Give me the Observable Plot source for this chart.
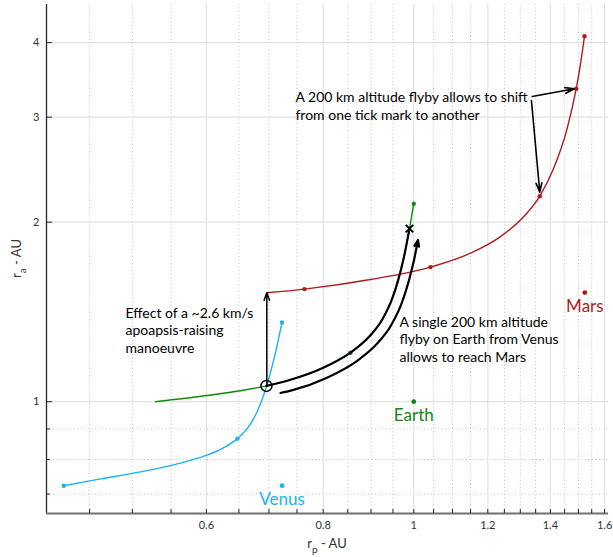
<!DOCTYPE html>
<html>
<head>
<meta charset="utf-8">
<script src="https://cdn.jsdelivr.net/npm/d3@7"></script>
<script src="https://cdn.jsdelivr.net/npm/@observablehq/plot@0.6"></script>
<style>
  html, body { margin: 0; padding: 0; background: #fff; }
  #chart svg { display: block; }
</style>
</head>
<body>
<div id="chart"></div>
<script>
// Orbits reachable after a flyby, in periapsis (r_p) / apoapsis (r_a) space, AU.

// Venus flyby curve
const venusRp = [0.4223, 0.4623, 0.5101, 0.5560, 0.5987, 0.6243, 0.6477, 0.6672, 0.6821, 0.6967, 0.7096, 0.7228];
const venusRa = [0.723, 0.7422, 0.7626, 0.7851, 0.8118, 0.8350, 0.8671, 0.9124, 0.9730, 1.0678, 1.1886, 1.3578];
const venusMarked = [0, 6, 11];

// Earth flyby curve
const earthRp = [0.5293, 0.6012, 0.6525, 0.6957, 0.7350, 0.7980, 0.8556, 0.8951, 0.9251, 0.9482, 0.9623, 0.9757, 0.9895, 1.0];
const earthRa = [1.0, 1.0242, 1.0430, 1.0629, 1.0861, 1.1376, 1.2083, 1.2833, 1.3725, 1.4884, 1.5992, 1.7437, 1.9510, 2.1478];
const earthMarked = [6, 13];

// Mars flyby curve
const marsRp = [0.6969, 0.7640, 0.8988, 1.0420, 1.1499, 1.2381, 1.3006, 1.3639, 1.4117, 1.4591, 1.4918, 1.5077, 1.5226];
const marsRa = [1.5227, 1.5446, 1.6029, 1.6816, 1.7742, 1.8917, 2.0161, 2.2111, 2.4643, 2.8737, 3.3473, 3.6820, 4.1008];
const marsMarked = [1, 3, 7, 10, 12];

// Planets (circular orbits)
const planetNames = ["Venus", "Earth", "Mars"];
const planetRp = [0.723, 1.0, 1.524];
const planetRa = [0.723, 1.0, 1.524];

// Transfer drawn along the Earth curve (circle -> cross) and the parallel arrow
const transferFrom = 3, transferTo = 12;
const arrowPathRp = [0.7201, 0.7405, 0.8065, 0.8684, 0.9122, 0.9461, 0.9714, 0.9865, 1.0007, 1.0104];
const arrowPathRa = [1.0342, 1.0446, 1.0962, 1.1688, 1.2481, 1.3447, 1.4667, 1.5820, 1.7283, 1.8670];

// Apoapsis-raising burn: from the crossing point up to the Mars curve
const burnRp = 0.6963, burnRaFrom = 1.0629, burnRaTo = 1.5227;

// Pointers from the "tick mark" note to two consecutive Mars-curve marks
const noteArrowRp1 = [1.3386, 1.3361];
const noteArrowRa1 = [3.249, 3.199];
const noteArrowRp2 = [1.485, 1.3639];
const noteArrowRa2 = [3.347, 2.2454];

// Notes
const notes = [
  {text: "A 200 km altitude flyby allows to shift\nfrom one tick mark to another", rp: 0.7472, ra: 3.138},
  {text: "Effect of a ~2.6 km/s\napoapsis-raising\nmanoeuvre", rp: 0.4916, ra: 1.32},
  {text: "A single 200 km altitude\nflyby on Earth from Venus\nallows to reach Mars", rp: 0.9654, ra: 1.275}
];

// Axis ticks
const xMajorTicks = [0.6, 0.8, 1, 1.2, 1.4, 1.6];
const xMinorTicks = [0.45, 0.5, 0.55, 0.65, 0.7, 0.75, 0.85, 0.9, 0.95, 1.05, 1.1, 1.15, 1.25, 1.3, 1.35, 1.45, 1.5, 1.55];
const yMajorTicks = [1, 2, 3, 4];
const yMinorTicks = [0.7, 0.8, 0.9];
const xDomain = [0.4047, 1.6154];
const yDomain = [0.6494, 4.635];

const venusColor = "#1bb3f4";
const earthColor = "#11880f";
const marsColor = "#b0191c";
const planetColors = [venusColor, earthColor, marsColor];
const ink = "#262626";
const font = "Lato, 'Open Sans', sans-serif";

const pts = (xs, ys) => xs.map((x, i) => ({x, y: ys[i]}));
const venus = pts(venusRp, venusRa);
const earth = pts(earthRp, earthRa);
const mars = pts(marsRp, marsRa);
const planets = planetNames.map((name, i) => ({name, x: planetRp[i], y: planetRa[i]}));
const transfer = earth.slice(transferFrom, transferTo + 1);
const arrowPath = pts(arrowPathRp, arrowPathRa);
const pick = (arr, idx) => idx.map(i => arr[i]);
const smooth = "monotone-x";
const last = arrowPath.length - 1;

const W = 613, H = 557;
const margin = {left: 46, right: 5, top: 4, bottom: 44};

const plot = Plot.plot({
  width: W,
  height: H,
  marginLeft: margin.left,
  marginRight: margin.right,
  marginTop: margin.top,
  marginBottom: margin.bottom,
  style: {fontFamily: font, background: "#fff", overflow: "visible"},
  x: {type: "log", domain: xDomain},
  y: {type: "log", domain: yDomain},
  marks: [
    // grid
    Plot.ruleX(xMinorTicks, {stroke: "#c2c2c2", strokeDasharray: "1,2.5", strokeWidth: 1}),
    Plot.ruleY(yMinorTicks, {stroke: "#c2c2c2", strokeDasharray: "1,2.5", strokeWidth: 1}),
    Plot.ruleX(xMajorTicks, {stroke: "#e2e2e2", strokeWidth: 1.2}),
    Plot.ruleY(yMajorTicks, {stroke: "#e2e2e2", strokeWidth: 1.2}),
    // axes
    Plot.ruleX([xDomain[0]], {stroke: ink, strokeWidth: 1.3}),
    Plot.ruleY([yDomain[0]], {stroke: "#707070", strokeWidth: 2}),
    Plot.axisX([...xMajorTicks, ...xMinorTicks], {
      tickSize: -4, tickPadding: 12, stroke: ink, fill: "#333", fontSize: 11, label: null,
      tickFormat: d => xMajorTicks.includes(d) ? String(d) : ""
    }),
    Plot.axisY(yMajorTicks, {
      tickSize: -6, tickPadding: 13, stroke: ink, fill: "#333", fontSize: 11, label: null,
      tickFormat: d => String(d)
    }),
    Plot.axisY(yMinorTicks, {
      tickSize: -4, tickPadding: 10, stroke: ink, label: null, tickFormat: () => ""
    }),
    // flyby curves
    Plot.line(venus, {x: "x", y: "y", stroke: venusColor, strokeWidth: 1.4, curve: smooth}),
    Plot.line(earth, {x: "x", y: "y", stroke: earthColor, strokeWidth: 1.4, curve: smooth}),
    Plot.line(mars, {x: "x", y: "y", stroke: marsColor, strokeWidth: 1.4, curve: smooth}),
    Plot.dot(pick(venus, venusMarked), {x: "x", y: "y", r: 2.2, fill: venusColor}),
    Plot.dot(pick(earth, earthMarked), {x: "x", y: "y", r: 2.2, fill: earthColor}),
    Plot.dot(pick(mars, marsMarked), {x: "x", y: "y", r: 2.2, fill: marsColor}),
    // planets
    Plot.dot(planets, {x: "x", y: "y", r: 2.4, fill: (d, i) => planetColors[i]}),
    Plot.text(planets, {x: "x", y: "y", text: "name", dy: 13.5, fontSize: 17,
      fill: (d, i) => planetColors[i]}),
    // transfer and burn
    Plot.line(transfer, {x: "x", y: "y", stroke: "#000", strokeWidth: 2.2, curve: smooth}),
    Plot.line(arrowPath.slice(0, last), {x: "x", y: "y", stroke: "#000", strokeWidth: 2.2, curve: smooth}),
    Plot.arrow([arrowPath[last - 1]], {
      x1: "x", y1: "y", x2: () => arrowPath[last].x, y2: () => arrowPath[last].y,
      stroke: "#000", strokeWidth: 2.2, headLength: 9, headAngle: 40
    }),
    Plot.arrow([0], {
      x1: () => burnRp, y1: () => burnRaFrom, x2: () => burnRp, y2: () => burnRaTo,
      stroke: "#000", strokeWidth: 1.5, headLength: 8, headAngle: 40
    }),
    Plot.dot([earth[transferFrom]], {x: "x", y: "y", r: 5.5, stroke: "#000", strokeWidth: 1.5, fill: "none"}),
    Plot.dot([earth[transferTo]], {x: "x", y: "y", r: 3.5, symbol: "times", stroke: "#000", strokeWidth: 2}),
    // note pointers
    Plot.arrow([0, 1], {
      x1: i => noteArrowRp1[i], y1: i => noteArrowRa1[i],
      x2: i => noteArrowRp2[i], y2: i => noteArrowRa2[i],
      stroke: "#000", strokeWidth: 1.6, headLength: 9, headAngle: 35
    }),
    // notes
    Plot.text(notes, {x: "rp", y: "ra", text: "text", textAnchor: "start", lineAnchor: "middle",
      fontSize: 14, lineHeight: 1.25, fill: "#000"})
  ]
});

// axis titles with subscripts
const svg = d3.select(plot);
const plotW = W - margin.left - margin.right;
const plotH = H - margin.top - margin.bottom;
const xt = svg.append("text")
  .attr("x", margin.left + plotW / 2)
  .attr("y", H - 9)
  .attr("text-anchor", "middle")
  .attr("font-size", 13)
  .attr("font-family", font)
  .attr("fill", "#333");
xt.append("tspan").text("r");
xt.append("tspan").attr("dy", 5).attr("font-size", 10).text("p");
xt.append("tspan").attr("dy", -5).text(" - AU");

const yt = svg.append("text")
  .attr("transform", `translate(${21},${margin.top + plotH / 2}) rotate(-90)`)
  .attr("text-anchor", "middle")
  .attr("font-size", 13)
  .attr("font-family", font)
  .attr("fill", "#333");
yt.append("tspan").text("r");
yt.append("tspan").attr("dy", 5).attr("font-size", 10).text("a");
yt.append("tspan").attr("dy", -5).text(" - AU");

document.getElementById("chart").appendChild(plot);
</script>
</body>
</html>
